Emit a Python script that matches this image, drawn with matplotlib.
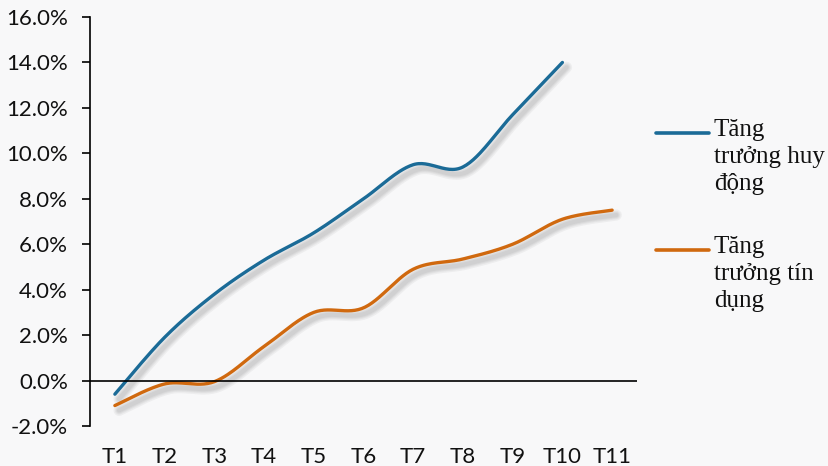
import matplotlib
matplotlib.use("Agg")
import matplotlib.pyplot as plt
import matplotlib.patheffects as pe
from matplotlib.lines import Line2D
from matplotlib.ticker import FuncFormatter
import numpy as np

months = ["T1", "T2", "T3", "T4", "T5", "T6", "T7", "T8", "T9", "T10", "T11"]
huy_dong = [-0.6, 1.9, 3.8, 5.3, 6.5, 8.0, 9.5, 9.4, 11.7, 14.0]   # Tăng trưởng huy động
tin_dung = [-1.1, -0.15, -0.05, 1.5, 3.0, 3.2, 4.9, 5.35, 6.0, 7.1, 7.5]  # Tăng trưởng tín dụng

labels = ["Tăng\ntrưởng huy\nđộng", "Tăng\ntrưởng tín\ndụng"]
colors = ["#1b6b97", "#d0690f"]


def smooth(xs, ys, n=30):
    # bezier smoothing like excel "smoothed line"
    xs = np.asarray(xs, float)
    ys = np.asarray(ys, float)
    px, py = [], []
    for i in range(len(xs) - 1):
        x0, y0 = xs[max(i - 1, 0)], ys[max(i - 1, 0)]
        x1, y1 = xs[i], ys[i]
        x2, y2 = xs[i + 1], ys[i + 1]
        x3, y3 = xs[min(i + 2, len(xs) - 1)], ys[min(i + 2, len(xs) - 1)]
        c1 = (x1 + (x2 - x0) / 6, y1 + (y2 - y0) / 6)
        c2 = (x2 - (x3 - x1) / 6, y2 - (y3 - y1) / 6)
        t = np.linspace(0, 1, n)
        bx = (1-t)**3*x1 + 3*(1-t)**2*t*c1[0] + 3*(1-t)*t**2*c2[0] + t**3*x2
        by = (1-t)**3*y1 + 3*(1-t)**2*t*c1[1] + 3*(1-t)*t**2*c2[1] + t**3*y2
        px.extend(bx)
        py.extend(by)
    return px, py


fig = plt.figure(figsize=(8.29, 4.66), dpi=100)
fig.patch.set_facecolor("#f8f8f9")
ax = fig.add_axes([90/829, 1-426/466, (637-90)/829, (426-17)/466])
ax.set_facecolor("none")

# soft blurred shadow: a few wide, faint strokes
shadow = [pe.SimpleLineShadow(offset=(3, -3.5), shadow_color="#444444", alpha=0.06, linewidth=w)
          for w in (8, 6, 4.5, 3)] + [pe.Normal()]
for vals, c in zip([huy_dong, tin_dung], colors):
    x = np.arange(len(vals))
    sx, sy = smooth(x, vals)
    ax.plot(sx, sy, color=c, lw=2.4, solid_capstyle="round", path_effects=shadow)

ax.axhline(0, color="black", lw=1.2)
ax.set_xlim(-0.5, len(months) - 0.5)
ax.set_ylim(-2, 16)
ax.set_yticks(np.arange(-2, 17, 2))
ax.yaxis.set_major_formatter(FuncFormatter(lambda v, p: f"{v:.1f}%"))
ax.set_xticks(range(len(months)))
ax.set_xticklabels(months)

for s in ["top", "right", "bottom"]:
    ax.spines[s].set_visible(False)
ax.spines["left"].set_linewidth(1.2)
ax.tick_params(axis="y", length=6, width=1.2, pad=10, labelsize=16)
ax.tick_params(axis="x", length=0, pad=15, labelsize=16)
for t in ax.get_xticklabels() + ax.get_yticklabels():
    t.set_fontfamily("Lato")
    t.set_color("#111111")

# legend drawn by hand so the handle sits on the first text line
for i, (lab, c) in enumerate(zip(labels, colors)):
    yl = 1 - (133 + i * 117) / 466
    fig.add_artist(Line2D([656/829, 709/829], [yl, yl], color=c, lw=2.6,
                          solid_capstyle="round", transform=fig.transFigure))
    fig.text(714/829, yl + 0.03, lab, family="Liberation Serif", fontsize=18,
             va="top", ha="left", linespacing=1.3, color="#111111")

fig.savefig("out.png", dpi=100, facecolor=fig.get_facecolor())
